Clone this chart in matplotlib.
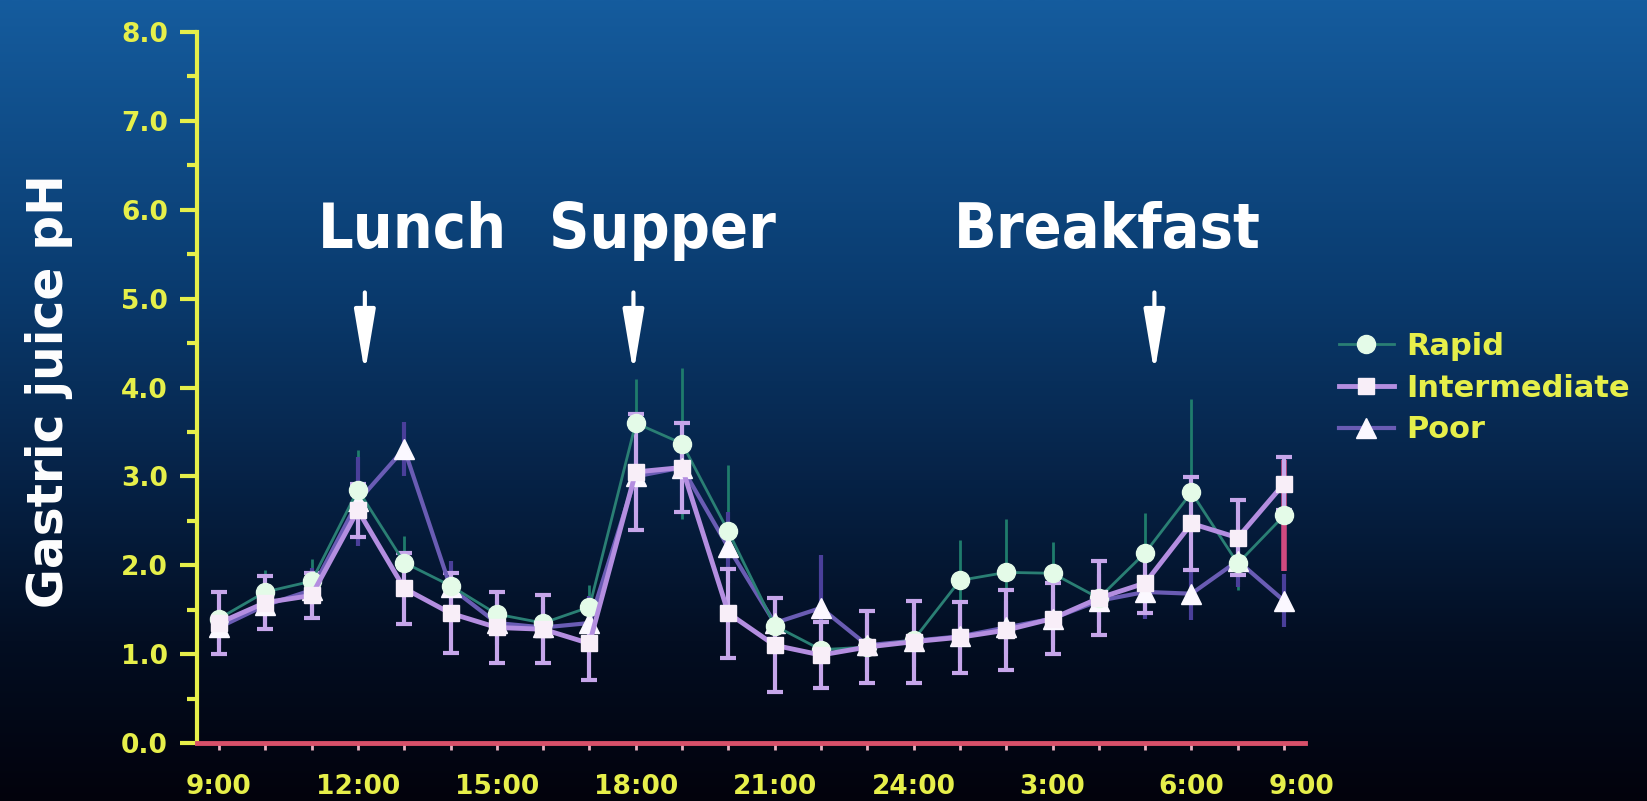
import numpy as np
import matplotlib
matplotlib.use("Agg")
import matplotlib.pyplot as plt

# hours after 9:00 (9:00 .. 8:00 next morning)
hours = list(range(24))

rapid = [1.4, 1.7, 1.82, 2.85, 2.03, 1.77, 1.45, 1.35, 1.53, 3.6, 3.37, 2.38,
         1.32, 1.05, 1.08, 1.16, 1.83, 1.92, 1.91, 1.63, 2.14, 2.82, 2.02, 2.56]
intermediate = [1.35, 1.58, 1.66, 2.62, 1.74, 1.46, 1.3, 1.28, 1.12, 3.05, 3.1, 1.46,
                1.1, 0.99, 1.08, 1.14, 1.19, 1.27, 1.4, 1.63, 1.8, 2.47, 2.31, 2.92]
poor = [1.3, 1.55, 1.72, 2.72, 3.31, 1.75, 1.35, 1.3, 1.35, 3.0, 3.1, 2.2,
        1.35, 1.52, 1.1, 1.15, 1.2, 1.3, 1.4, 1.6, 1.7, 1.68, 2.05, 1.6]

rapid_err = [0.15, 0.25, 0.25, 0.45, 0.3, 0.2, 0.25, 0.3, 0.25, 0.5, 0.85, 0.75,
             0.3, 0.25, 0.3, 0.3, 0.45, 0.6, 0.35, 0.3, 0.45, 1.05, 0.3, 0.63]
int_err = [0.35, 0.3, 0.25, 0.3, 0.4, 0.45, 0.4, 0.38, 0.41, 0.65, 0.5, 0.5,
           0.53, 0.37, 0.4, 0.46, 0.4, 0.45, 0.4, 0.42, 0.34, 0.52, 0.42, 0.3]
poor_err = [0.2, 0.25, 0.25, 0.5, 0.3, 0.3, 0.25, 0.25, 0.3, 0.4, 0.5, 0.4,
            0.3, 0.6, 0.3, 0.3, 0.3, 0.3, 0.3, 0.3, 0.3, 0.3, 0.3, 0.3]

tick_pos = [0, 3, 6, 9, 12, 15, 18, 21, 23.37]
tick_labels = ["9:00", "12:00", "15:00", "18:00", "21:00", "24:00", "3:00", "6:00", "9:00"]

meals = ["Lunch", "Supper", "Breakfast"]
meal_x = [3.15, 8.95, 20.2]
meal_text_x = [4.17, 9.57, 19.18]

YELLOW = "#e6ef4a"
fig = plt.figure(figsize=(16.47, 8.01), dpi=100)

# dark blue backdrop fading to black
bg = fig.add_axes([0, 0, 1, 1], zorder=-5)
stops = np.array([[0.0, 21, 92, 158], [0.35, 10, 60, 112], [0.6, 6, 34, 70],
                  [0.8, 3, 14, 34], [1.0, 2, 2, 12]])
t = np.linspace(0, 1, 400)
grad = np.stack([np.interp(t, stops[:, 0], stops[:, i]) for i in (1, 2, 3)], axis=-1) / 255
bg.imshow(grad[:, None, :], aspect="auto", extent=[0, 1, 0, 1])
bg.axis("off")

ax = fig.add_axes([0.1196, 0.0724, 0.6727, 0.8876])
ax.set_facecolor("none")

# error bars
eb = ax.errorbar(hours, rapid, yerr=rapid_err, fmt="none", ecolor="#1f7c6c", elinewidth=2, zorder=2)
cols = ["#1f7c6c"] * len(hours)
cols[-1] = "#d04a80"
eb.lines[2][0].set_color(cols)
eb.lines[2][0].set_linewidth([2] * 23 + [4])
ax.errorbar(hours, poor, yerr=poor_err, fmt="none", ecolor="#4a3f9a", elinewidth=3, zorder=2)
ax.errorbar(hours, intermediate, yerr=int_err, fmt="none", ecolor="#c6a6ea", elinewidth=3,
            capsize=6, capthick=3, zorder=3)

l_rapid, = ax.plot(hours, rapid, color="#2a7f74", lw=2, marker="o", ms=13,
                   mfc="#e4fbe8", mec="#e4fbe8", zorder=5, label="Rapid")
l_poor, = ax.plot(hours, poor, color="#6a5cb4", lw=3, marker="^", ms=14,
                  mfc="#fbf8ff", mec="#fbf8ff", zorder=4, label="Poor")
l_int, = ax.plot(hours, intermediate, color="#b48ee0", lw=3.5, marker="s", ms=12,
                 mfc="#f8eef8", mec="#f8eef8", zorder=6, label="Intermediate")

ax.set_xlim(-0.475, 23.45)
ax.set_ylim(0, 8)

for s in ("top", "right"):
    ax.spines[s].set_visible(False)
ax.spines["left"].set_color(YELLOW)
ax.spines["left"].set_linewidth(3)
ax.spines["bottom"].set_color("#d8506a")
ax.spines["bottom"].set_linewidth(3.5)

ax.set_yticks(np.arange(0, 9, 1.0))
ax.set_yticklabels([f"{v:.1f}" for v in np.arange(0, 9, 1.0)])
ax.set_yticks(np.arange(0.5, 8, 1.0), minor=True)
ax.tick_params(axis="y", which="major", colors=YELLOW, length=12, width=3, pad=9,
               labelsize=19)
ax.tick_params(axis="y", which="minor", colors=YELLOW, length=7, width=3)
for lab in ax.get_yticklabels():
    lab.set_fontweight("bold")

ax.xaxis.remove_overlapping_locs = False
ax.set_xticks(tick_pos)
ax.set_xticklabels(tick_labels, fontweight="bold")
ax.set_xticks(hours, minor=True)
ax.tick_params(axis="x", which="major", length=0, pad=22, labelsize=19, labelcolor=YELLOW)
ax.tick_params(axis="x", which="minor", length=5, width=2, colors="#e8b0c0")

fig.text(0.03, 0.512, "Gastric juice pH", rotation=90, color="white", fontsize=35,
         fontweight="bold", ha="center", va="center")

for name, xa, xt in zip(meals, meal_x, meal_text_x):
    ax.text(xt, 5.76, name, color="white", fontsize=45, fontweight="bold",
            family="DejaVu Sans", fontstretch="condensed", ha="center", va="center")
    ax.annotate("", xy=(xa, 4.16), xytext=(xa, 5.07),
                arrowprops=dict(arrowstyle="-|>,head_length=1.9,head_width=0.32",
                                mutation_scale=20, color="white", lw=3,
                                shrinkA=0, shrinkB=0))

leg = ax.legend(handles=[l_rapid, l_int, l_poor], loc="upper left",
                bbox_to_anchor=(0.8036, 0.605), bbox_transform=fig.transFigure,
                frameon=False, borderpad=0, handlelength=1.8, handletextpad=0.4,
                labelspacing=0.42, prop={"weight": "bold", "size": 22})
for txt in leg.get_texts():
    txt.set_color(YELLOW)

fig.savefig("out.png", dpi=100)
